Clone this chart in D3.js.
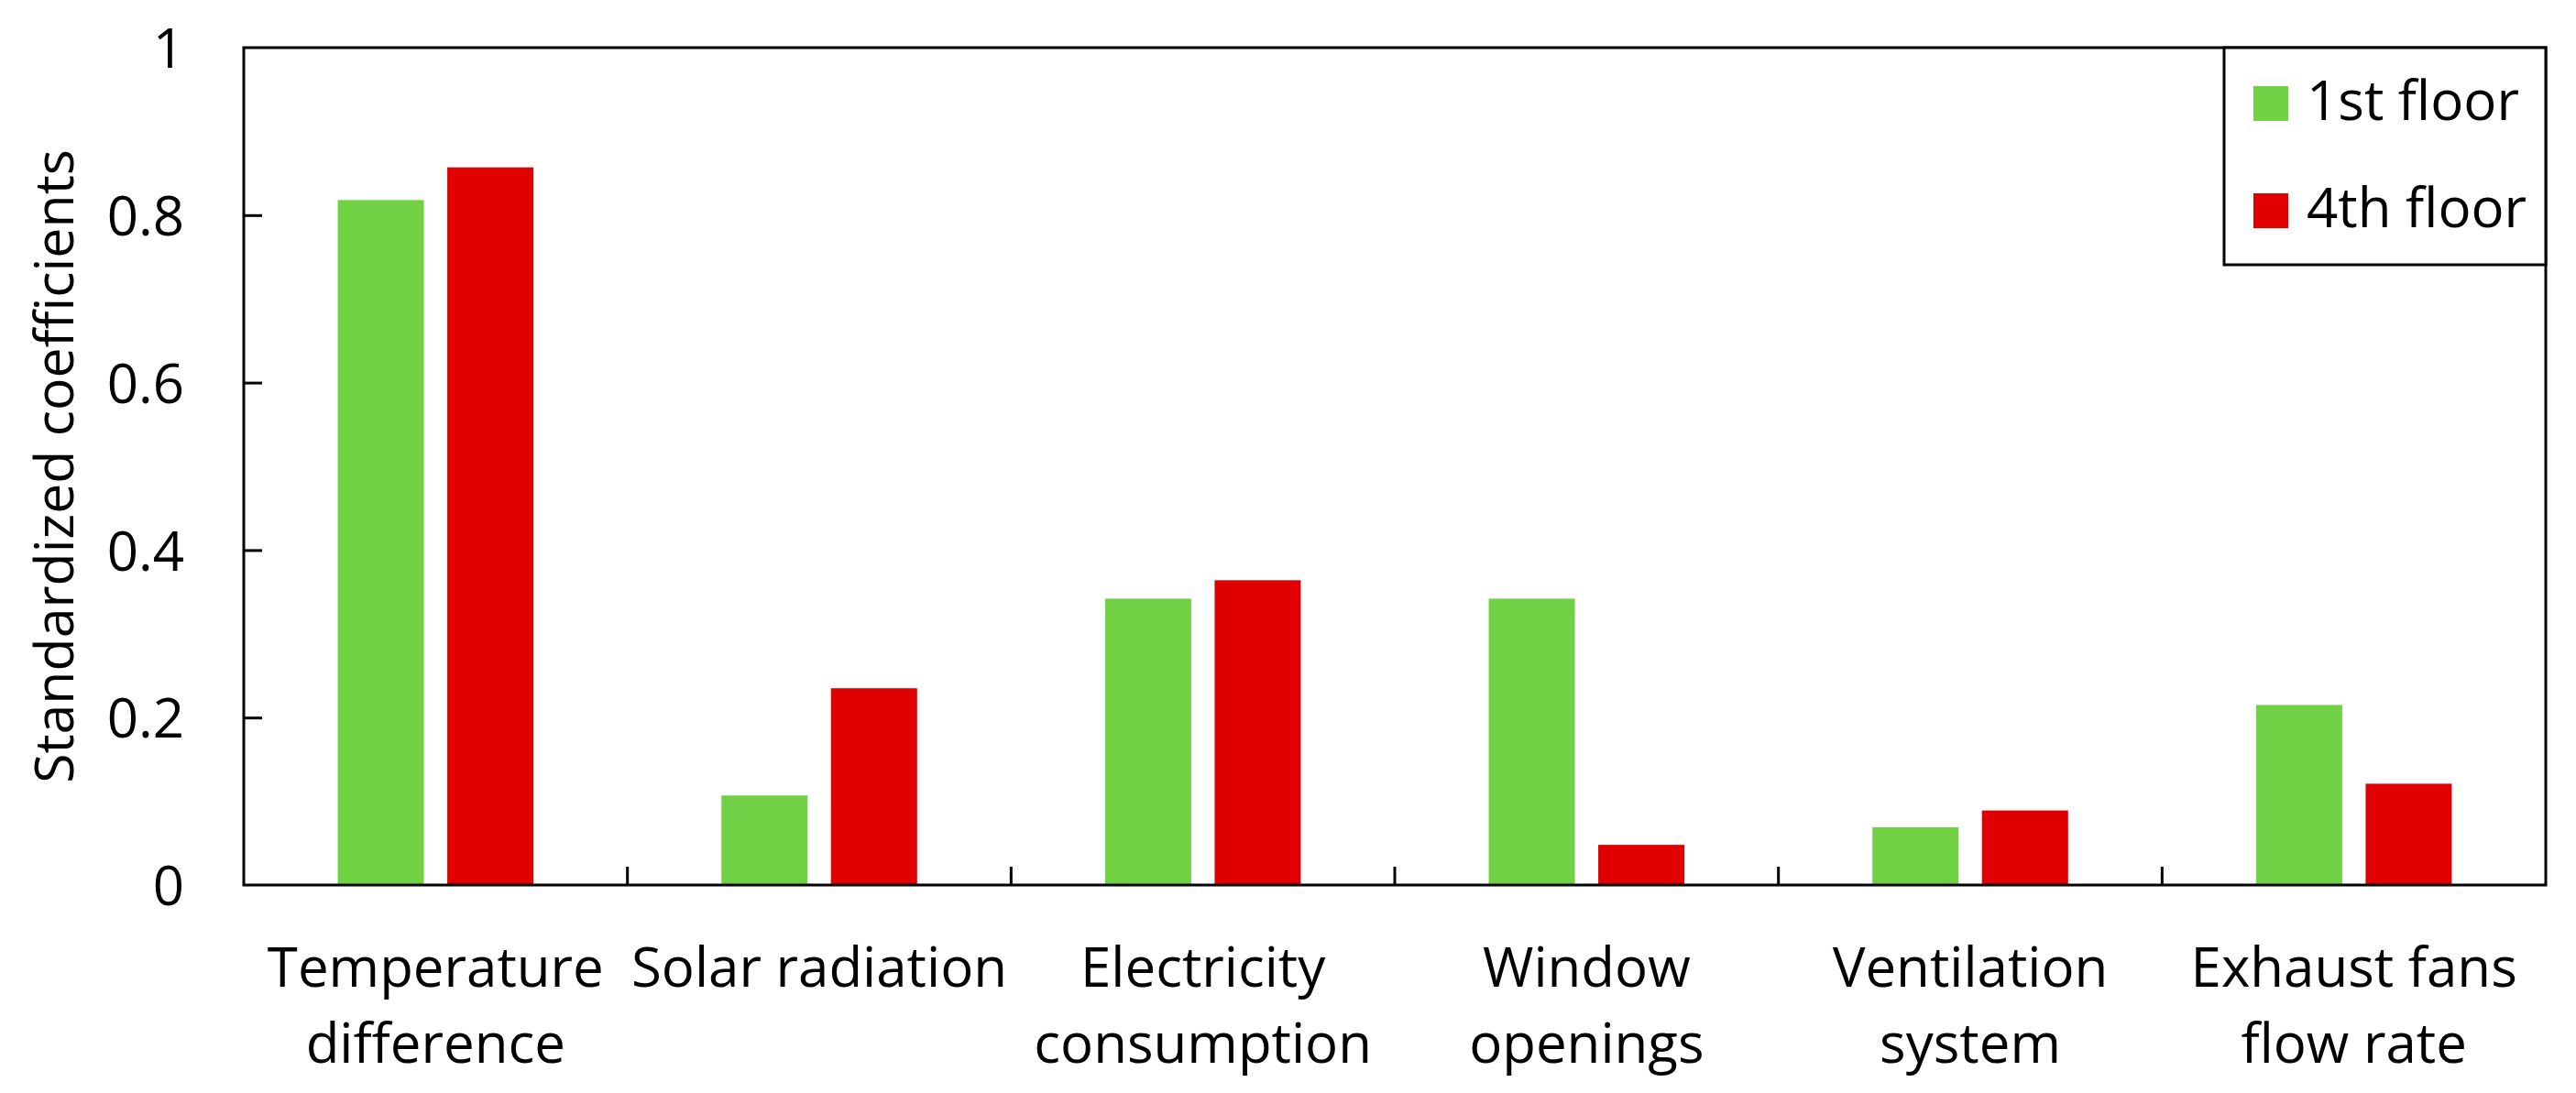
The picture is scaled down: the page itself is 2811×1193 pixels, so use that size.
<!DOCTYPE html>
<html>
<head>
<meta charset="utf-8">
<script src="https://cdn.jsdelivr.net/npm/d3@7"></script>
<style>
  html, body { margin: 0; padding: 0; background: #ffffff; }
  svg { display: block; }
  text { font-family: "Open Sans", "DejaVu Sans", sans-serif; fill: #000; }
</style>
</head>
<body>
<svg id="chart" width="2811" height="1193"></svg>
<script>
// ---- data ----
const categories = [
  ["Temperature", "difference"],
  ["Solar radiation"],
  ["Electricity", "consumption"],
  ["Window", "openings"],
  ["Ventilation", "system"],
  ["Exhaust fans", "flow rate"]
];
const seriesNames = ["1st floor", "4th floor"];
const floor1 = [0.818, 0.107, 0.342, 0.342, 0.069, 0.215];
const floor4 = [0.857, 0.235, 0.364, 0.048, 0.089, 0.121];
const yTicks = [0, 0.2, 0.4, 0.6, 0.8, 1];
const yTickLabels = ["0", "0.2", "0.4", "0.6", "0.8", "1"];
const yLabel = "Standardized coefficients";

// ---- layout ----
const colors = ["#71d144", "#e00000"];
const plotL = 266, plotR = 2778, plotT = 52, plotB = 966;
const fontSize = 60;

const svg = d3.select("#chart");
svg.append("rect").attr("width", 2811).attr("height", 1193).attr("fill", "#fff");

const catKeys = categories.map((c, i) => i);
const x0 = d3.scaleBand().domain(catKeys).range([plotL, plotR]).padding(0);
const x1 = d3.scaleBand().domain(seriesNames).range([0, x0.bandwidth()])
  .paddingInner(0.2134).paddingOuter(0.858);
const y = d3.scaleLinear().domain([0, 1]).range([plotB, plotT]);

const values = [floor1, floor4];

// bars
const groups = svg.append("g").selectAll("g")
  .data(catKeys).join("g")
  .attr("transform", i => `translate(${x0(i)},0)`);
groups.selectAll("rect")
  .data(i => seriesNames.map((s, k) => ({ s, k, v: values[k][i] })))
  .join("rect")
  .attr("x", d => x1(d.s))
  .attr("width", x1.bandwidth())
  .attr("y", d => y(d.v))
  .attr("height", d => y(0) - y(d.v))
  .attr("fill", d => colors[d.k]);

// y axis (ticks inward)
const yAxis = d3.axisLeft(y).tickValues(yTicks)
  .tickFormat((d, i) => yTickLabels[i])
  .tickSizeInner(-20).tickSizeOuter(0).tickPadding(65);
const gy = svg.append("g").attr("transform", `translate(${plotL},0)`).call(yAxis);
gy.select(".domain").remove();
gy.selectAll(".tick line").attr("stroke", "#000").attr("stroke-width", 3)
  .filter(d => d === 0 || d === 1).remove();
gy.selectAll(".tick text").attr("font-size", fontSize)
  .attr("font-family", "'Open Sans', sans-serif").attr("fill", "#000")
  .attr("x", 201 - plotL).attr("dy", "0.36em");

// x axis: ticks at category boundaries (inward)
const boundaries = catKeys.slice(1).map(i => x0(i));
svg.append("g").selectAll("line").data(boundaries).join("line")
  .attr("x1", d => d).attr("x2", d => d)
  .attr("y1", plotB).attr("y2", plotB - 20)
  .attr("stroke", "#000").attr("stroke-width", 3);

// x labels
const xl = svg.append("g").selectAll("text").data(catKeys).join("text")
  .attr("text-anchor", "middle")
  .attr("font-size", fontSize)
  .attr("x", i => x0(i) + x0.bandwidth() / 2)
  .attr("y", 1077);
xl.selectAll("tspan").data(i => categories[i]).join("tspan")
  .attr("x", function () { return d3.select(this.parentNode).attr("x"); })
  .attr("dy", (d, j) => j === 0 ? 0 : 83)
  .text(d => d);

// frame
svg.append("rect")
  .attr("x", plotL).attr("y", plotT)
  .attr("width", plotR - plotL).attr("height", plotB - plotT)
  .attr("fill", "none").attr("stroke", "#000").attr("stroke-width", 3);

// y label
svg.append("text")
  .attr("transform", `translate(80,${(plotT + plotB) / 2}) rotate(-90)`)
  .attr("text-anchor", "middle")
  .attr("font-size", 59)
  .text(yLabel);

// legend
const lg = svg.append("g");
lg.append("rect")
  .attr("x", 2427).attr("y", plotT)
  .attr("width", plotR - 2427).attr("height", 289 - plotT)
  .attr("fill", "#fff").attr("stroke", "#000").attr("stroke-width", 3);
const items = lg.selectAll("g.item").data(seriesNames).join("g")
  .attr("class", "item")
  .attr("transform", (d, i) => `translate(2459,${94 + i * 117})`);
items.append("rect").attr("width", 38).attr("height", 38)
  .attr("fill", (d, i) => colors[i]);
items.append("text").attr("x", 58).attr("y", 37)
  .attr("font-size", fontSize).text(d => d);
</script>
</body>
</html>
